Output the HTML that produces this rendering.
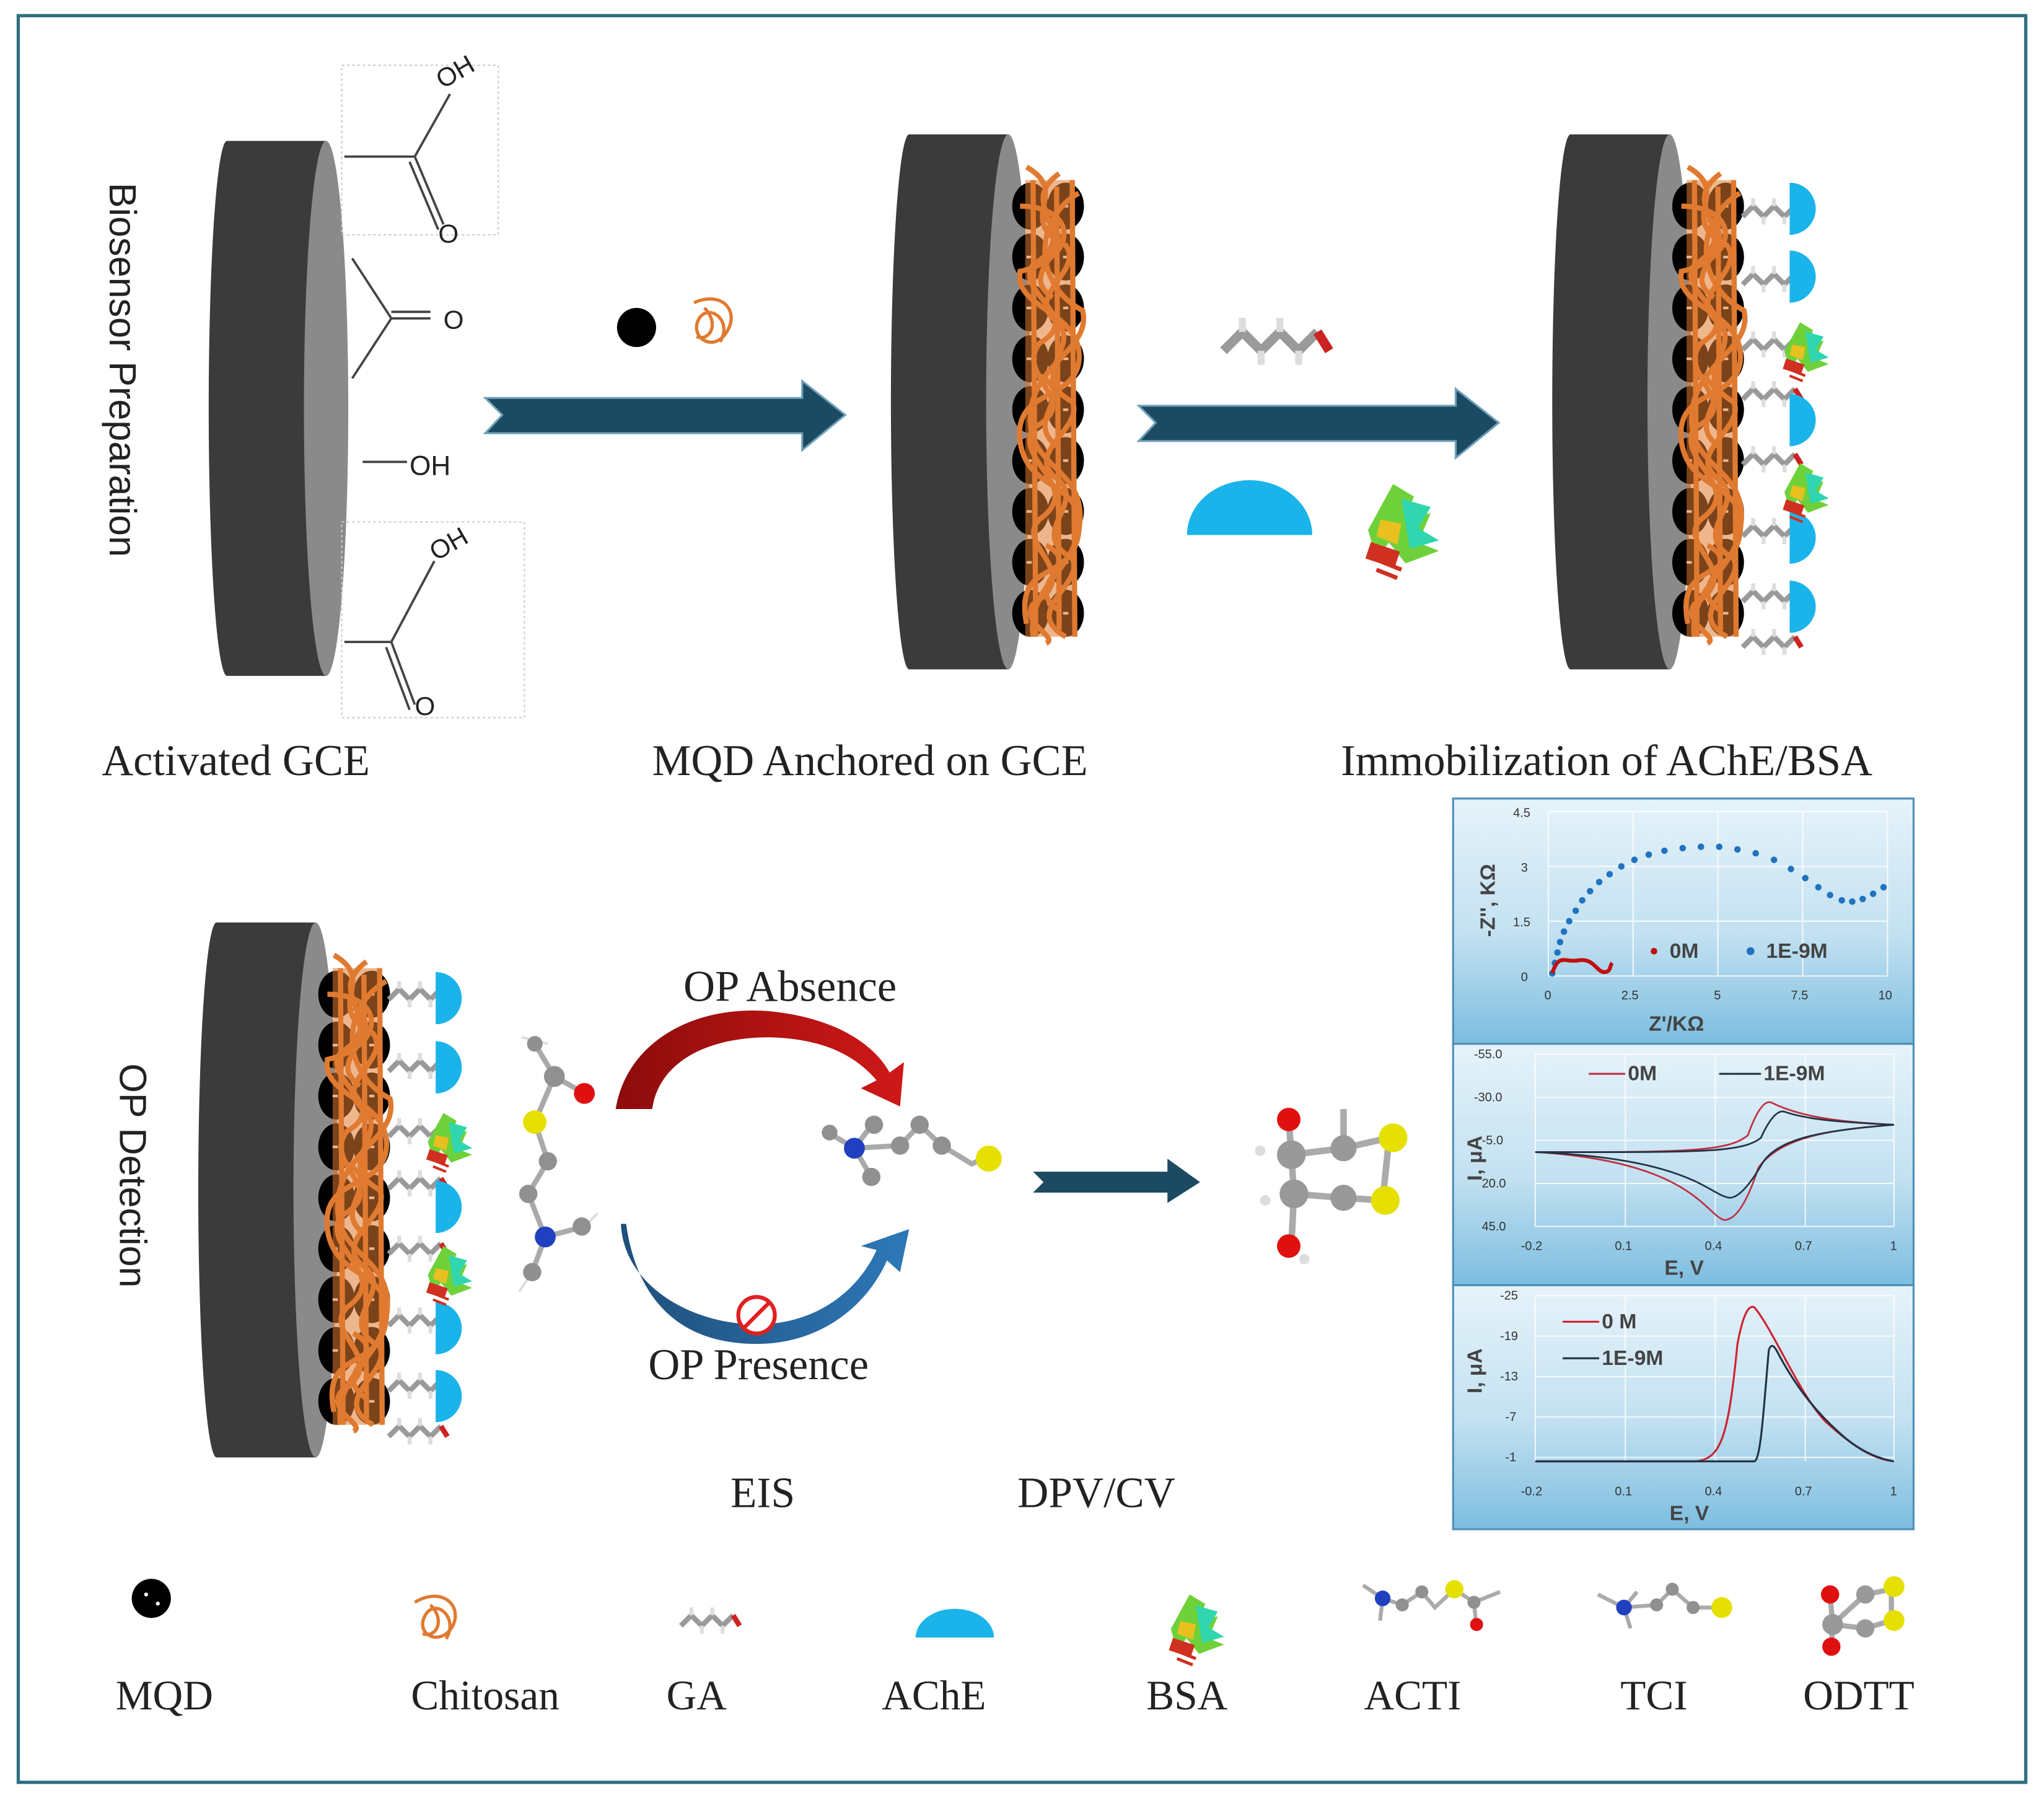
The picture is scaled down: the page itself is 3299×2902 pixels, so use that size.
<!DOCTYPE html>
<html><head><meta charset="utf-8"><style>
html,body{margin:0;padding:0;background:#fff}
svg{display:block}
.serif{font-family:"Liberation Serif",serif}
.sans{font-family:"Liberation Sans",sans-serif}
</style></head><body>
<svg width="3299" height="2902" viewBox="0 0 1567 1378" preserveAspectRatio="none" xmlns="http://www.w3.org/2000/svg">
<defs>
<linearGradient id="pg" x1="0" y1="0" x2="0" y2="1"><stop offset="0" stop-color="#e6f3fa"/><stop offset="0.55" stop-color="#c3e1f1"/><stop offset="1" stop-color="#7cbde0"/></linearGradient>
<linearGradient id="redg" x1="0" y1="0" x2="1" y2="0"><stop offset="0" stop-color="#8c0c0c"/><stop offset="1" stop-color="#d01818"/></linearGradient>
<linearGradient id="blueg" x1="0" y1="0" x2="1" y2="0"><stop offset="0" stop-color="#1f4f7a"/><stop offset="1" stop-color="#2e78b8"/></linearGradient>
<g id="elec">
 <ellipse cx="14" cy="205" rx="14" ry="205" fill="#3b3b3b"/>
 <rect x="14" y="0" width="76" height="410" fill="#3b3b3b"/>
 <ellipse cx="90" cy="205" rx="17" ry="205" fill="#8a8a8a"/>
</g>
<g id="brow"><ellipse cx="0" cy="0" rx="14" ry="18" fill="#000"/><ellipse cx="27" cy="0" rx="14" ry="18" fill="#000"/><rect x="-3" y="-1" width="4" height="2" fill="#fff"/><rect x="25" y="-1" width="4" height="2" fill="#fff"/></g>
<g id="chito" fill="none" stroke="#e07a30" stroke-width="4">
 <rect x="4" y="10" width="38" height="350" fill="#e07a30" opacity="0.55" stroke="none"/>
 <path d="M5,0 C40,20 -5,40 35,60 C50,80 0,100 30,120 C45,140 5,160 40,180 C50,200 0,220 30,240 C50,260 5,280 40,300 C50,320 0,340 35,360"/>
 <path d="M30,5 C-5,30 50,50 10,75 C-5,95 50,115 15,135 C-5,160 50,180 10,200 C-5,225 50,245 15,270 C-5,290 50,310 10,335 C0,350 30,360 20,365"/>
 <path d="M0,30 C45,30 45,70 0,80 C-5,110 50,110 45,150 C40,180 -5,170 0,210 C5,250 50,240 45,280 C40,320 -5,300 5,350"/>
 <path d="M45,20 C10,40 10,90 48,110 C55,140 10,150 8,190 C5,230 48,230 46,270 C44,310 5,320 10,360"/>
 <path d="M10,10 L12,360 M28,15 L30,355 M40,10 L42,360"/>
 <path d="M20,40 C50,60 -5,80 25,100 M15,160 C45,175 0,195 30,215 M20,290 C50,305 0,320 30,340"/>
</g>
<g id="ga" fill="none" stroke="#9a9a9a" stroke-width="4" stroke-linejoin="round">
 <path d="M0,6 L8,-2 L16,6 L24,-2 L32,6 L40,-2"/>
 <path d="M8,-2 L8,-8 M24,-2 L24,-8 M16,6 L16,12 M32,6 L32,12" stroke="#ddd" stroke-width="3"/>
 <path d="M40,-2 L45,6" stroke="#c22"/>
</g>
<path id="ache" d="M0,-20 A20,20 0 0 1 0,20 Z" fill="#1ab4ea"/>
<g id="bsa">
 <path d="M0,-15 l10,6 l-4,10 l12,-2 l-6,14 l10,4 l-16,6 l-8,-10 l-6,8 l-4,-14 z" fill="#6fd13a"/>
 <path d="M4,-8 l14,4 l-6,10 l10,6 l-14,4 z" fill="#2fd6b0"/>
 <path d="M-6,2 l10,2 l-2,10 l-10,-4 z" fill="#e8c020"/>
 <path d="M-10,14 l12,4 l-2,6 l-12,-4 z M-6,22 l10,4 M-8,26 l10,4" stroke="#d03020" stroke-width="2" fill="#d03020"/>
</g>
<g id="arrowbig"><path d="M0,13 L243,13 L243,0 L276,26 L243,53 L243,40 L0,40 L13,26 Z" fill="#1c4a63" stroke="#6fa0b8" stroke-width="1.5"/></g>
</defs>

<rect x="14" y="12" width="1539" height="1354" fill="none" stroke="#2f6f80" stroke-width="2.5"/>

<!-- Electrode 1 -->
<use href="#elec" x="160" y="108"/>
<g fill="none" stroke="#444" stroke-width="1.8">
 <path d="M264,120 L318,120 L345,72 M318,120 L340,172 M314,124 L336,176"/>
 <path d="M270,198 L300,244 L270,290 M300,244 L330,244 M300,239 L330,239"/>
 <path d="M278,354 L312,354"/>
 <path d="M264,492 L300,492 L333,430 M300,492 L318,540 M296,496 L314,544"/>
</g>
<g fill="none" stroke="#ccc" stroke-width="1" stroke-dasharray="2,2"><rect x="262" y="50" width="120" height="130"/><rect x="262" y="400" width="140" height="150"/></g>
<text x="336" y="64" class="sans" font-size="20" fill="#222" transform="rotate(-30 346 60)">OH</text>
<text x="336" y="186" class="sans" font-size="20" fill="#222">O</text>
<text x="340" y="252" class="sans" font-size="20" fill="#222">O</text>
<text x="314" y="364" class="sans" font-size="21" fill="#222">OH</text>
<text x="330" y="426" class="sans" font-size="20" fill="#222" transform="rotate(-30 340 420)">OH</text>
<text x="318" y="548" class="sans" font-size="20" fill="#222">O</text>

<text class="sans" font-size="29" fill="#222" transform="translate(84,140) rotate(90)">Biosensor Preparation</text>

<use href="#arrowbig" x="372" y="292"/>
<circle cx="488" cy="251" r="15" fill="#000"/>
<g fill="none" stroke="#e07a30" stroke-width="2.5"><path d="M532,232 C555,222 568,240 556,256 C546,270 528,258 536,244 C544,232 562,246 552,262 M540,236 C552,248 544,262 534,258"/></g>

<!-- Electrode 2 -->
<use href="#elec" x="683" y="103"/>
<g transform="translate(790,158)">
 <use href="#brow" y="0"/><use href="#brow" y="39"/><use href="#brow" y="78"/><use href="#brow" y="117"/><use href="#brow" y="156"/><use href="#brow" y="195"/><use href="#brow" y="234"/><use href="#brow" y="273"/><use href="#brow" y="312"/>
</g>
<use href="#chito" x="782" y="128"/>

<use href="#arrowbig" x="873" y="298"/>
<g transform="translate(938,258) scale(1.8)"><use href="#ga"/></g>
<path d="M910,410 A48,42 0 0 1 1006,410 Z" fill="#1ab4ea"/>
<g transform="translate(1068,395) scale(1.6)"><use href="#bsa"/></g>

<!-- Electrode 3 -->
<use href="#elec" x="1190" y="103"/>
<g transform="translate(1296,158)">
 <use href="#brow" y="0"/><use href="#brow" y="39"/><use href="#brow" y="78"/><use href="#brow" y="117"/><use href="#brow" y="156"/><use href="#brow" y="195"/><use href="#brow" y="234"/><use href="#brow" y="273"/><use href="#brow" y="312"/>
</g>
<use href="#chito" x="1289" y="128"/>
<g transform="translate(1336,0)">
 <use href="#ga" y="160"/><use href="#ga" y="212"/><use href="#ga" y="262"/><use href="#ga" y="300"/><use href="#ga" y="350"/><use href="#ga" y="405"/><use href="#ga" y="455"/><use href="#ga" y="490"/>
</g>
<use href="#ache" x="1372" y="160"/><use href="#ache" x="1372" y="212"/><use href="#ache" x="1372" y="322"/><use href="#ache" x="1372" y="412"/><use href="#ache" x="1372" y="465"/>
<use href="#bsa" x="1380" y="262"/><use href="#bsa" x="1380" y="370"/>

<text x="78" y="594" class="serif" font-size="33.5" fill="#222">Activated GCE</text>
<text x="500" y="594" class="serif" font-size="33.5" fill="#222">MQD Anchored on GCE</text>
<text x="1028" y="594" class="serif" font-size="33.5" fill="#222">Immobilization of AChE/BSA</text>

<!-- Electrode 4 -->
<use href="#elec" x="152" y="707"/>
<g transform="translate(258,762)">
 <use href="#brow" y="0"/><use href="#brow" y="39"/><use href="#brow" y="78"/><use href="#brow" y="117"/><use href="#brow" y="156"/><use href="#brow" y="195"/><use href="#brow" y="234"/><use href="#brow" y="273"/><use href="#brow" y="312"/>
</g>
<use href="#chito" x="251" y="732"/>
<g transform="translate(298,0)">
 <use href="#ga" y="760"/><use href="#ga" y="815"/><use href="#ga" y="865"/><use href="#ga" y="905"/><use href="#ga" y="955"/><use href="#ga" y="1010"/><use href="#ga" y="1060"/><use href="#ga" y="1095"/>
</g>
<use href="#ache" x="334" y="765"/><use href="#ache" x="334" y="818"/><use href="#ache" x="334" y="925"/><use href="#ache" x="334" y="1018"/><use href="#ache" x="334" y="1070"/>
<use href="#bsa" x="340" y="868"/><use href="#bsa" x="340" y="970"/>

<text class="sans" font-size="29" fill="#222" transform="translate(92,815) rotate(90)">OP Detection</text>

<!-- ACTI molecule -->
<g stroke="#aaa" stroke-width="4" fill="none"><path d="M410,800 L425,825 L448,838 M425,825 L410,860 L420,890 L405,915 L418,948 L448,940 M418,948 L408,975"/></g>
<g stroke="#ddd" stroke-width="2"><path d="M400,795 L420,800 M448,940 L458,930 M408,975 L398,990"/></g>
<circle cx="425" cy="825" r="8" fill="#909090"/><circle cx="448" cy="838" r="8" fill="#e01010"/><circle cx="410" cy="860" r="9" fill="#e6e000"/><circle cx="420" cy="890" r="7" fill="#909090"/><circle cx="405" cy="915" r="7" fill="#909090"/><circle cx="418" cy="948" r="8" fill="#2040c0"/><circle cx="446" cy="940" r="7" fill="#909090"/><circle cx="408" cy="975" r="7" fill="#909090"/><circle cx="410" cy="800" r="6" fill="#909090"/>

<!-- curved arrows -->
<path d="M472,850 C480,800 530,770 590,775 C640,780 670,800 682,822 L693,814 L690,848 L660,834 L672,828 C655,808 630,796 590,795 C540,795 505,815 500,850 Z" fill="url(#redg)"/>
<path d="M476,938 C478,985 530,1015 580,1015 C630,1015 660,985 672,958 L660,955 L697,942 L690,975 L680,966 C665,1000 630,1030 580,1030 C520,1030 488,995 480,938 Z" fill="url(#blueg)"/>
<circle cx="580" cy="1008" r="14" fill="#fff" stroke="#e02020" stroke-width="3"/><path d="M570,1018 L590,998" stroke="#e02020" stroke-width="3"/>
<text x="524" y="767" class="serif" font-size="33.5" fill="#222">OP Absence</text>
<text x="497" y="1057" class="serif" font-size="33.5" fill="#222">OP Presence</text>

<!-- TCI -->
<g stroke="#aaa" stroke-width="4" fill="none"><path d="M635,868 L655,880 L670,860 M655,880 L668,902 M655,880 L690,878 L705,862 L722,878 L745,892 L760,885"/></g>
<circle cx="655" cy="880" r="8" fill="#2040c0"/><circle cx="670" cy="862" r="7" fill="#909090"/><circle cx="668" cy="902" r="7" fill="#909090"/><circle cx="690" cy="878" r="7" fill="#909090"/><circle cx="705" cy="862" r="7" fill="#909090"/><circle cx="722" cy="878" r="7" fill="#909090"/><circle cx="758" cy="888" r="10" fill="#e6e000"/><circle cx="636" cy="868" r="6" fill="#909090"/>

<path d="M792,898 L895,898 L895,888 L920,906 L895,922 L895,914 L792,914 L800,906 Z" fill="#1c4a63"/>

<!-- ODTT -->
<g stroke="#aaa" stroke-width="5" fill="none"><path d="M988,858 L990,885 L992,915 L990,955 M990,885 L1030,880 L1065,872 L1060,920 L1030,918 L992,915 M1030,880 L1030,850"/></g>
<circle cx="988" cy="858" r="9" fill="#e01010"/><circle cx="990" cy="885" r="11" fill="#999"/><circle cx="992" cy="915" r="11" fill="#999"/><circle cx="988" cy="955" r="9" fill="#e01010"/><circle cx="1030" cy="880" r="10" fill="#999"/><circle cx="1030" cy="918" r="10" fill="#999"/><circle cx="1068" cy="872" r="11" fill="#e6e000"/><circle cx="1062" cy="920" r="11" fill="#e6e000"/><circle cx="966" cy="882" r="4" fill="#ddd"/><circle cx="970" cy="920" r="4" fill="#ddd"/><circle cx="1000" cy="965" r="4" fill="#ddd"/>

<text x="560" y="1155" class="serif" font-size="33" fill="#222">EIS</text>
<text x="780" y="1155" class="serif" font-size="33" fill="#222">DPV/CV</text>

<!-- Graph panel -->
<g>
<rect x="1114" y="612" width="353" height="188" fill="url(#pg)" stroke="#4c8fb8" stroke-width="1.5"/>
<rect x="1114" y="800" width="353" height="185" fill="url(#pg)" stroke="#4c8fb8" stroke-width="1.5"/>
<rect x="1114" y="985" width="353" height="187" fill="url(#pg)" stroke="#4c8fb8" stroke-width="1.5"/>
<g stroke="#fff" stroke-width="1" opacity="0.8">
 <path d="M1187,622 H1447 M1187,664 H1447 M1187,706 H1447 M1187,748 H1447 M1187,622 V748 M1252,622 V748 M1317,622 V748 M1382,622 V748 M1447,622 V748"/>
 <path d="M1177,808 H1452 M1177,841 H1452 M1177,874 H1452 M1177,907 H1452 M1177,940 H1452 M1177,808 V940 M1246,808 V940 M1315,808 V940 M1384,808 V940 M1452,808 V940"/>
 <path d="M1177,993 H1452 M1177,1024 H1452 M1177,1055 H1452 M1177,1086 H1452 M1177,1117 H1452 M1177,993 V1120 M1246,993 V1120 M1315,993 V1120 M1384,993 V1120 M1452,993 V1120"/>
</g>
<g class="sans" font-size="9.5" fill="#333">
 <text x="1160" y="626">4.5</text><text x="1166" y="668">3</text><text x="1160" y="710">1.5</text><text x="1166" y="752">0</text>
 <text x="1184" y="766">0</text><text x="1243" y="766">2.5</text><text x="1314" y="766">5</text><text x="1373" y="766">7.5</text><text x="1440" y="766">10</text>
 <text x="1130" y="811">-55.0</text><text x="1130" y="844">-30.0</text><text x="1136" y="877">-5.0</text><text x="1136" y="910">20.0</text><text x="1136" y="943">45.0</text>
 <text x="1166" y="958">-0.2</text><text x="1238" y="958">0.1</text><text x="1307" y="958">0.4</text><text x="1376" y="958">0.7</text><text x="1449" y="958">1</text>
 <text x="1150" y="996">-25</text><text x="1150" y="1027">-19</text><text x="1150" y="1058">-13</text><text x="1154" y="1089">-7</text><text x="1154" y="1120">-1</text>
 <text x="1166" y="1146">-0.2</text><text x="1238" y="1146">0.1</text><text x="1307" y="1146">0.4</text><text x="1376" y="1146">0.7</text><text x="1449" y="1146">1</text>
</g>
<g class="sans" font-weight="bold" fill="#444">
 <text font-size="16" transform="translate(1146,718) rotate(-90)">-Z'', KΩ</text>
 <text x="1264" y="790" font-size="16">Z'/KΩ</text>
 <text font-size="16" transform="translate(1136,905) rotate(-90)">I, μA</text>
 <text x="1276" y="977" font-size="16">E, V</text>
 <text font-size="16" transform="translate(1136,1068) rotate(-90)">I, μA</text>
 <text x="1280" y="1165" font-size="16">E, V</text>
 <text x="1280" y="734" font-size="16">0M</text><text x="1354" y="734" font-size="16">1E-9M</text>
 <text x="1248" y="828" font-size="16">0M</text><text x="1352" y="828" font-size="16">1E-9M</text>
 <text x="1228" y="1018" font-size="16">0 M</text><text x="1228" y="1046" font-size="16">1E-9M</text>
</g>
<circle cx="1268" cy="729" r="2.5" fill="#c01010"/><circle cx="1342" cy="729" r="3" fill="#1f73c0"/>
<path d="M1218,823 H1246" stroke="#c03040" stroke-width="1.5"/>
<path d="M1318,823 H1350" stroke="#234" stroke-width="1.5"/>
<path d="M1198,1013 H1226" stroke="#d02030" stroke-width="1.5"/><path d="M1198,1041 H1226" stroke="#234" stroke-width="1.5"/>
<g fill="#1f73c0">
 <circle cx="1190" cy="746" r="2.5"/><circle cx="1192" cy="738" r="2.5"/><circle cx="1194" cy="730" r="2.5"/><circle cx="1196" cy="722" r="2.5"/><circle cx="1199" cy="714" r="2.5"/><circle cx="1203" cy="706" r="2.5"/><circle cx="1208" cy="698" r="2.5"/><circle cx="1213" cy="690" r="2.5"/><circle cx="1219" cy="683" r="2.5"/><circle cx="1226" cy="676" r="2.5"/><circle cx="1234" cy="670" r="2.5"/><circle cx="1243" cy="664" r="2.5"/><circle cx="1253" cy="659" r="2.5"/><circle cx="1264" cy="655" r="2.5"/><circle cx="1276" cy="652" r="2.5"/><circle cx="1290" cy="650" r="2.5"/><circle cx="1304" cy="649" r="2.5"/><circle cx="1318" cy="649" r="2.5"/><circle cx="1332" cy="651" r="2.5"/><circle cx="1346" cy="654" r="2.5"/><circle cx="1360" cy="659" r="2.5"/><circle cx="1373" cy="666" r="2.5"/><circle cx="1384" cy="673" r="2.5"/><circle cx="1394" cy="680" r="2.5"/><circle cx="1403" cy="686" r="2.5"/><circle cx="1412" cy="690" r="2.5"/><circle cx="1420" cy="691" r="2.5"/><circle cx="1428" cy="689" r="2.5"/><circle cx="1436" cy="685" r="2.5"/><circle cx="1444" cy="680" r="2.5"/>
</g>
<path d="M1190,746 C1195,730 1200,738 1210,736 C1222,734 1224,745 1230,745 C1235,745 1234,740 1236,738" fill="none" stroke="#c01010" stroke-width="3"/>
<path d="M1177,883 C1290,883 1325,883 1340,870 Q1350,842 1358,845 C1380,856 1410,860 1452,862 C1400,866 1365,872 1348,895 Q1335,935 1322,935 C1308,932 1298,890 1177,883" fill="none" stroke="#c03040" stroke-width="1.3"/>
<path d="M1177,883 C1300,883 1335,884 1350,872 Q1360,850 1368,852 C1385,858 1410,860 1452,862 C1400,866 1365,872 1352,890 Q1336,918 1326,918 C1310,916 1298,888 1177,883" fill="none" stroke="#234" stroke-width="1.3"/>
<path d="M1177,1120 H1300 C1320,1118 1325,1100 1332,1030 Q1338,998 1345,1002 C1360,1020 1380,1070 1400,1090 C1420,1108 1435,1118 1452,1120" fill="none" stroke="#d02030" stroke-width="1.5"/>
<path d="M1177,1120 H1345 C1350,1118 1352,1080 1356,1035 Q1358,1028 1362,1035 C1375,1060 1390,1080 1410,1098 C1425,1112 1440,1118 1452,1120" fill="none" stroke="#234" stroke-width="1.5"/>
</g>

<!-- Legend -->
<circle cx="116" cy="1225" r="15" fill="#000"/><circle cx="112" cy="1222" r="1.5" fill="#fff"/><circle cx="121" cy="1229" r="1.5" fill="#fff"/>
<g fill="none" stroke="#e07a30" stroke-width="2.5"><path d="M318,1228 C340,1215 356,1232 346,1248 C336,1262 318,1252 326,1238 C334,1224 352,1240 342,1256 M330,1230 C342,1242 334,1256 324,1252"/></g>
<g transform="translate(522,1240)"><use href="#ga"/></g>
<path d="M702,1255 A30,22 0 0 1 762,1255 Z" fill="#1ab4ea"/>
<g transform="translate(912,1240) scale(1.2)"><use href="#bsa"/></g>
<g stroke="#aaa" stroke-width="3" fill="none"><path d="M1045,1215 L1060,1225 L1075,1230 L1090,1220 L1100,1232 L1115,1218 L1130,1228 L1150,1220 M1130,1228 L1132,1248 M1060,1225 L1058,1242"/></g>
<circle cx="1060" cy="1225" r="6" fill="#2040c0"/><circle cx="1115" cy="1218" r="7" fill="#e6e000"/><circle cx="1132" cy="1245" r="5" fill="#e01010"/><circle cx="1075" cy="1230" r="5" fill="#909090"/><circle cx="1090" cy="1220" r="5" fill="#909090"/><circle cx="1130" cy="1228" r="5" fill="#909090"/>
<g stroke="#aaa" stroke-width="3" fill="none"><path d="M1225,1222 L1245,1232 L1255,1220 M1245,1232 L1250,1248 M1245,1232 L1270,1230 L1282,1218 L1298,1232 L1318,1232"/></g>
<circle cx="1245" cy="1232" r="6" fill="#2040c0"/><circle cx="1320" cy="1232" r="8" fill="#e6e000"/><circle cx="1270" cy="1230" r="5" fill="#909090"/><circle cx="1282" cy="1218" r="5" fill="#909090"/><circle cx="1298" cy="1232" r="5" fill="#909090"/>
<g stroke="#aaa" stroke-width="4" fill="none"><path d="M1403,1222 L1405,1245 L1404,1262 M1405,1245 L1430,1222 L1450,1218 L1450,1242 L1430,1248 L1405,1245"/></g>
<circle cx="1403" cy="1222" r="7" fill="#e01010"/><circle cx="1404" cy="1262" r="7" fill="#e01010"/><circle cx="1405" cy="1245" r="8" fill="#999"/><circle cx="1430" cy="1222" r="7" fill="#999"/><circle cx="1430" cy="1248" r="7" fill="#999"/><circle cx="1452" cy="1216" r="8" fill="#e6e000"/><circle cx="1452" cy="1242" r="8" fill="#e6e000"/>

<g class="serif" font-size="32" fill="#222" text-anchor="middle">
 <text x="126" y="1310">MQD</text><text x="372" y="1310">Chitosan</text><text x="534" y="1310">GA</text><text x="716" y="1310">AChE</text><text x="910" y="1310">BSA</text><text x="1083" y="1310">ACTI</text><text x="1268" y="1310">TCI</text><text x="1425" y="1310">ODTT</text>
</g>
</svg>
</body></html>
